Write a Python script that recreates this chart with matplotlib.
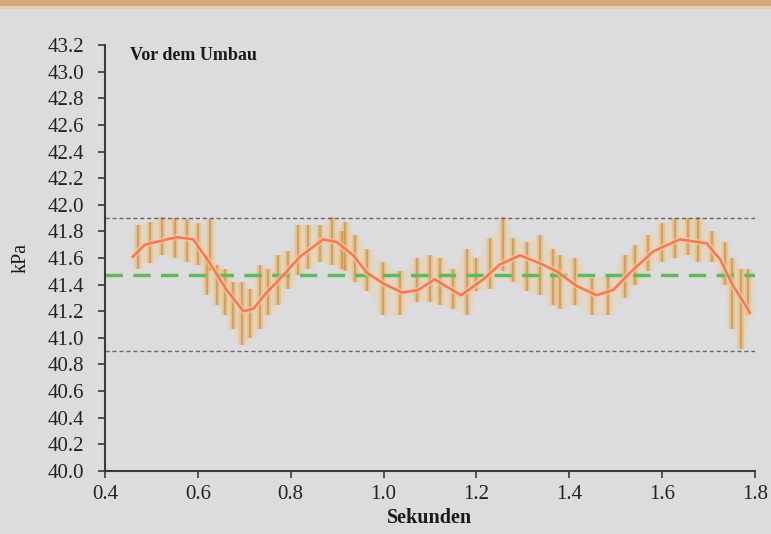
import matplotlib.pyplot as plt
import numpy as np

# geglättete Kurve (kPa)
t_glatt = [0.46, 0.486, 0.554, 0.59, 0.626, 0.662, 0.698, 0.72, 0.748, 0.784, 0.82, 0.87, 0.899,
           0.935, 0.964, 0.999, 1.04, 1.075, 1.11, 1.167, 1.215, 1.25, 1.294, 1.337, 1.373, 1.416,
           1.459, 1.495, 1.531, 1.581, 1.638, 1.696, 1.725, 1.753, 1.775, 1.789]
p_glatt = [41.61, 41.70, 41.757, 41.74, 41.56, 41.36, 41.20, 41.22, 41.34, 41.47, 41.61, 41.74, 41.72,
           41.62, 41.49, 41.41, 41.34, 41.36, 41.44, 41.32, 41.44, 41.55, 41.62, 41.56, 41.50, 41.39,
           41.32, 41.36, 41.49, 41.65, 41.74, 41.71, 41.59, 41.39, 41.27, 41.19]

# Rohsignal: Ausschläge (Zeit, oben, unten)
t_roh = [0.472, 0.497, 0.522, 0.551, 0.576, 0.601, 0.619, 0.626, 0.641, 0.658, 0.676, 0.694, 0.712,
         0.734, 0.752, 0.773, 0.795, 0.816, 0.838, 0.863, 0.888, 0.910, 0.917, 0.938, 0.964, 0.999,
         1.035, 1.071, 1.100, 1.122, 1.150, 1.179, 1.200, 1.229, 1.258, 1.279, 1.308, 1.337, 1.366,
         1.380, 1.412, 1.448, 1.484, 1.520, 1.541, 1.570, 1.599, 1.628, 1.656, 1.678, 1.707, 1.735,
         1.750, 1.771, 1.786]
p_oben = [41.85, 41.87, 41.91, 41.90, 41.89, 41.86, 41.62, 41.89, 41.55, 41.52, 41.42, 41.42, 41.37,
          41.55, 41.52, 41.62, 41.65, 41.85, 41.85, 41.85, 41.91, 41.80, 41.87, 41.77, 41.67, 41.57,
          41.50, 41.60, 41.62, 41.60, 41.52, 41.67, 41.60, 41.75, 41.91, 41.75, 41.72, 41.77, 41.67,
          41.62, 41.60, 41.45, 41.47, 41.62, 41.70, 41.77, 41.86, 41.90, 41.90, 41.91, 41.80, 41.72,
          41.60, 41.52, 41.52]
p_unten = [41.52, 41.56, 41.62, 41.60, 41.57, 41.55, 41.32, 41.50, 41.25, 41.17, 41.07, 40.95, 41.00,
           41.07, 41.17, 41.25, 41.37, 41.47, 41.52, 41.57, 41.55, 41.52, 41.50, 41.42, 41.35, 41.17,
           41.17, 41.27, 41.27, 41.25, 41.22, 41.17, 41.35, 41.37, 41.50, 41.42, 41.35, 41.32, 41.25,
           41.22, 41.25, 41.17, 41.17, 41.30, 41.40, 41.50, 41.57, 41.60, 41.62, 41.57, 41.57, 41.40,
           41.07, 40.92, 41.17]

grenze_oben = 41.9
grenze_unten = 40.9
mittel = 41.475

y_ticks = np.round(np.arange(40.0, 43.21, 0.2), 1)
x_ticks = [0.4, 0.6, 0.8, 1.0, 1.2, 1.4, 1.6, 1.8]

hg = '#DCDCDE'
plt.rcParams['font.family'] = ['Liberation Serif', 'DejaVu Serif']

fig = plt.figure(figsize=(7.71, 5.34), dpi=100, facecolor=hg)
# Balken oben
fig.patches.append(plt.Rectangle((0, 0.988), 1, 0.012, transform=fig.transFigure,
                                 facecolor='#D5A878', edgecolor='none'))
fig.patches.append(plt.Rectangle((0, 0.984), 1, 0.004, transform=fig.transFigure,
                                 facecolor='#E4CDAE', edgecolor='none'))

ax = fig.add_axes([0.1362, 0.118, 0.843, 0.7977])
ax.set_facecolor(hg)

# Rohsignal (verwaschen)
ax.fill_between(t_roh, p_unten, p_oben, color='#EAD2AE', alpha=0.3, lw=0)
ax.vlines(t_roh, p_unten, p_oben, color='#F2C880', alpha=0.18, lw=9)
ax.vlines(t_roh, p_unten, p_oben, color='#E3A855', alpha=0.35, lw=4.5)
ax.vlines(t_roh, p_unten, p_oben, color='#CC8835', alpha=0.6, lw=1.6)

# Grenzlinien
ax.axhline(grenze_oben, color='#666666', lw=1, ls=(0, (3, 2)))
ax.axhline(grenze_unten, color='#666666', lw=1, ls=(0, (3, 2)))
ax.axhline(mittel, color='#5DBB5A', lw=2.5, ls=(0, (5, 3)))

# geglättete Kurve
ax.plot(t_glatt, p_glatt, color='#FBC9A8', lw=4.5, alpha=0.6)
ax.plot(t_glatt, p_glatt, color='#F27A52', lw=1.8)

ax.set_xlim(0.4, 1.8)
ax.set_ylim(40.0, 43.2)
ax.set_yticks(y_ticks)
ax.set_yticklabels([f'{v:.1f}' for v in y_ticks])
ax.set_xticks(x_ticks)
ax.set_xticklabels([f'{v:.1f}' for v in x_ticks])

for s in ['top', 'right']:
    ax.spines[s].set_visible(False)
for s in ['left', 'bottom']:
    ax.spines[s].set_color('#3A3A3A')
    ax.spines[s].set_linewidth(1.5)
ax.tick_params(direction='out', length=5, width=1.2, color='#3A3A3A',
               labelsize=15, labelcolor='#222222')
ax.tick_params(axis='y', pad=10)
ax.tick_params(axis='x', pad=5)

ax.text(0.038, 0.995, 'Vor dem Umbau', transform=ax.transAxes, fontsize=13,
        fontweight='bold', va='top', ha='left', color='#1A1A1A')
ax.set_xlabel('Sekunden', fontsize=14.5, fontweight='bold', color='#1A1A1A', labelpad=3)
ax.set_ylabel('kPa', fontsize=14.5, color='#1A1A1A', labelpad=12)

fig.savefig('out.png', dpi=100, facecolor=hg)
